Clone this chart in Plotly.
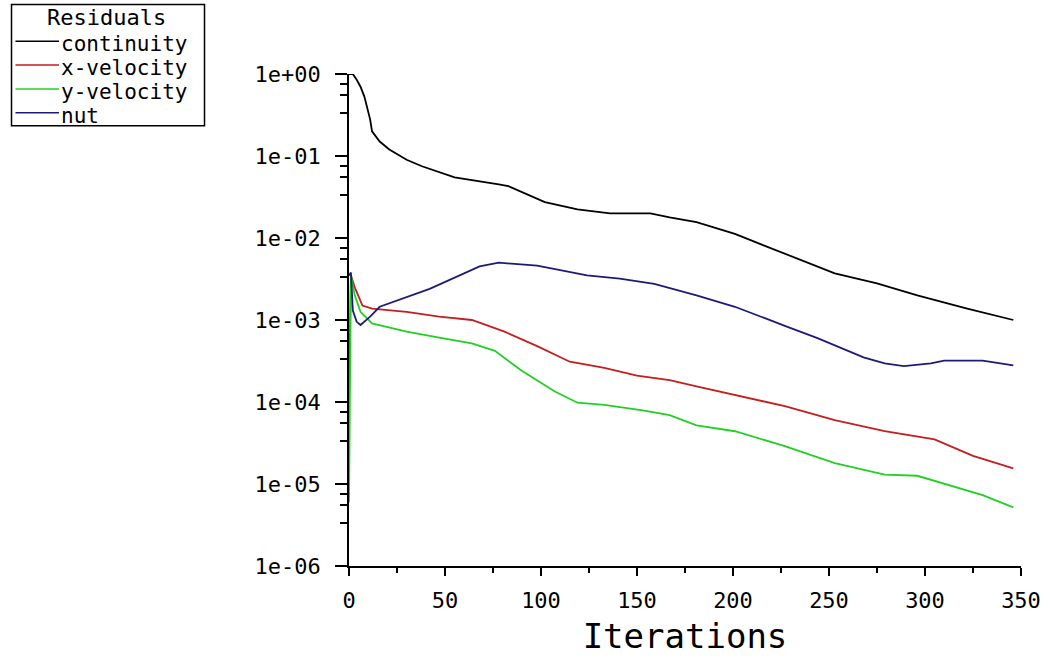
import plotly.graph_objects as go

# ---- data ----
cont_iter = [0, 2, 4, 6, 8, 11, 12, 16, 21, 30, 38, 55, 78, 83, 102, 119, 136, 157, 167, 181,
             201, 227, 253, 275, 296, 322, 346]
cont_val = [1.0, 1.0, 0.85, 0.7, 0.53, 0.28, 0.2, 0.15, 0.12, 0.09, 0.075, 0.055, 0.045, 0.043,
            0.0274, 0.0224, 0.020, 0.020, 0.0178, 0.0156, 0.0112, 0.0064, 0.0037, 0.0028, 0.0020,
            0.00138, 0.0010]

xvel_iter = [0, 1, 3, 5, 7, 12, 30, 47, 64, 81, 98, 115, 133, 150, 167, 181, 201, 227, 253, 279,
             305, 325, 346]
xvel_val = [1.3e-4, 3.5e-3, 2.5e-3, 1.9e-3, 1.5e-3, 1.38e-3, 1.26e-3, 1.1e-3, 1.0e-3, 7.2e-4,
            4.8e-4, 3.1e-4, 2.6e-4, 2.1e-4, 1.85e-4, 1.55e-4, 1.22e-4, 8.9e-5, 6.0e-5, 4.4e-5,
            3.5e-5, 2.2e-5, 1.55e-5]

yvel_iter = [0, 1, 3, 6, 12, 30, 47, 64, 76, 90, 107, 119, 133, 153, 167, 181, 201, 227, 253, 279,
             296, 313, 330, 346]
yvel_val = [6e-6, 3.5e-3, 2.0e-3, 1.26e-3, 9.1e-4, 7.2e-4, 6.1e-4, 5.2e-4, 4.2e-4, 2.4e-4,
            1.35e-4, 9.8e-5, 9.2e-5, 7.9e-5, 6.9e-5, 5.2e-5, 4.4e-5, 2.9e-5, 1.8e-5, 1.3e-5,
            1.26e-5, 9.6e-6, 7.3e-6, 5.2e-6]

nut_iter = [0, 1, 2, 4, 6, 11, 16, 42, 68, 78, 98, 124, 141, 159, 181, 201, 227, 244, 268, 279,
            289, 303, 310, 330, 346]
nut_val = [3.5e-3, 3.8e-3, 1.3e-3, 9.5e-4, 8.7e-4, 1.1e-3, 1.45e-3, 2.4e-3, 4.5e-3, 5.0e-3,
           4.6e-3, 3.5e-3, 3.2e-3, 2.75e-3, 2.0e-3, 1.45e-3, 8.5e-4, 6e-4, 3.5e-4, 2.95e-4,
           2.74e-4, 2.95e-4, 3.2e-4, 3.2e-4, 2.8e-4]

series_names = ["continuity", "x-velocity", "y-velocity", "nut"]
series_colors = ["#000000", "#c41e1e", "#22d022", "#1c1c78"]
legend_title = "Residuals"

y_tick_vals = [1e0, 1e-1, 1e-2, 1e-3, 1e-4, 1e-5, 1e-6]
y_tick_text = ["1e+00", "1e-01", "1e-02", "1e-03", "1e-04", "1e-05", "1e-06"]
y_minor_mult = [0.76, 0.55, 0.33]
x_tick_vals = [0, 50, 100, 150, 200, 250, 300, 350]

FONT = "DejaVu Sans Mono"
W, H = 1053, 661
ML, MR, MT, MB = 349, 25, 74, 92
PW, PH = W - ML - MR, H - MT - MB


def px2x(px):
    return (px - ML) / PW


def px2y(py):
    return (H - MB - py) / PH


fig = go.Figure()
all_x = [cont_iter, xvel_iter, yvel_iter, nut_iter]
all_y = [cont_val, xvel_val, yvel_val, nut_val]
for name, xs, ys, col in zip(series_names, all_x, all_y, series_colors):
    fig.add_trace(go.Scatter(x=xs, y=ys, mode="lines", name=name, showlegend=False,
                             line=dict(color=col, width=1.8)))

# ---- hand-drawn legend box (like the original) ----
LEG_FONT = 21
shapes = [dict(type="rect", xref="paper", yref="paper",
               x0=px2x(8), x1=px2x(203), y0=px2y(4), y1=px2y(126),
               line=dict(color="black", width=1.5), fillcolor="white", layer="above")]
annotations = [dict(text=legend_title, xref="paper", yref="paper",
                    x=px2x(104), y=px2y(17), xanchor="center", yanchor="middle",
                    showarrow=False, font=dict(family=FONT, size=LEG_FONT + 1, color="black"))]
row_y = [41, 65, 89, 113]
for name, col, ry in zip(series_names, series_colors, row_y):
    shapes.append(dict(type="line", xref="paper", yref="paper",
                       x0=px2x(12), x1=px2x(56), y0=px2y(ry), y1=px2y(ry),
                       line=dict(color=col, width=1.5), layer="above"))
    annotations.append(dict(text=name, xref="paper", yref="paper",
                            x=px2x(56), y=px2y(ry + 3), xanchor="left", yanchor="middle",
                            showarrow=False, font=dict(family=FONT, size=LEG_FONT, color="black")))

minor_y = [d * m for d in y_tick_vals[:-1] for m in y_minor_mult]

fig.update_layout(
    width=W, height=H,
    margin=dict(l=ML, r=MR, t=MT, b=MB),
    paper_bgcolor="white", plot_bgcolor="white",
    font=dict(family=FONT, size=22, color="black"),
    showlegend=False,
    shapes=shapes,
    annotations=annotations,
    xaxis=dict(
        range=[0, 350], showgrid=False, zeroline=False,
        showline=True, linecolor="black", linewidth=1.5,
        tickmode="array", tickvals=x_tick_vals,
        ticks="outside", ticklen=8, tickwidth=1.5, tickcolor="black",
        ticklabelstandoff=6,
        minor=dict(dtick=25, tick0=0, ticks="outside", ticklen=5, tickwidth=1.5, tickcolor="black"),
        title=dict(text="Iterations", font=dict(family=FONT, size=34), standoff=12),
        tickfont=dict(family=FONT, size=22),
    ),
    yaxis=dict(
        type="log", range=[-6, 0], showgrid=False, zeroline=False,
        showline=True, linecolor="black", linewidth=1.5,
        tickmode="array", tickvals=y_tick_vals, ticktext=y_tick_text,
        ticks="outside", ticklen=12, tickwidth=1.5, tickcolor="black",
        ticklabelstandoff=10,
        minor=dict(tickmode="array", tickvals=minor_y, ticks="outside", ticklen=7,
                   tickwidth=1.5, tickcolor="black"),
        tickfont=dict(family=FONT, size=22),
    ),
)

fig.write_html("out.html")
